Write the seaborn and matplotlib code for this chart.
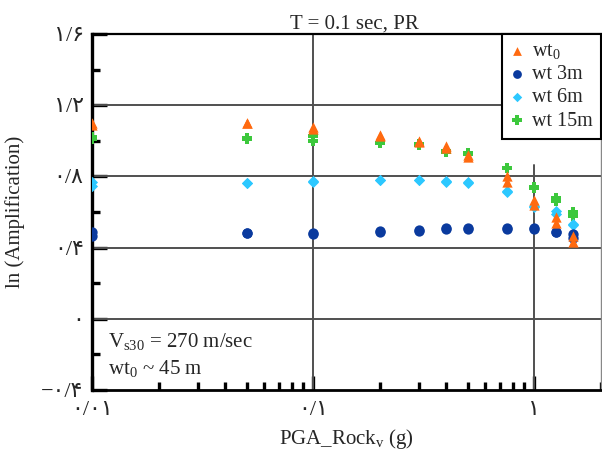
import matplotlib
matplotlib.use("Agg")
import matplotlib.pyplot as plt
import seaborn as sns
import pandas as pd
from matplotlib.ticker import FixedLocator, FixedFormatter, NullFormatter, LogLocator

# ---- data ----
pga = [0.01, 0.05, 0.1, 0.2, 0.3, 0.4, 0.5, 0.75, 1.0, 1.25, 1.5]
wt0_a = [1.10, 1.10, 1.08, 1.035, 1.00, 0.97, 0.92, 0.80, 0.67, 0.57, 0.465]
wt0_b = [1.09, 1.10, 1.065, 1.025, 0.995, 0.96, 0.91, 0.77, 0.64, 0.54, 0.43]
wt3_a = [0.49, 0.48, 0.48, 0.495, 0.50, 0.51, 0.51, 0.51, 0.51, 0.49, 0.475]
wt3_b = [0.465, 0.48, 0.475, 0.485, 0.495, 0.505, 0.505, 0.505, 0.505, 0.485, 0.455]
wt6_a = [0.77, 0.765, 0.775, 0.78, 0.78, 0.775, 0.77, 0.72, 0.635, 0.605, 0.535]
wt6_b = [0.745, 0.765, 0.77, 0.78, 0.78, 0.77, 0.765, 0.71, 0.63, 0.59, 0.525]
wt15_a = [1.02, 1.015, 1.025, 0.99, 0.98, 0.94, 0.93, 0.85, 0.74, 0.68, 0.60]
wt15_b = [1.01, 1.01, 1.00, 0.985, 0.975, 0.935, 0.925, 0.845, 0.735, 0.66, 0.575]

series_names = [r"wt$_{\mathregular{0}}$", "wt 3m", "wt 6m", "wt 15m"]
series_values = [(wt0_a, wt0_b), (wt3_a, wt3_b), (wt6_a, wt6_b), (wt15_a, wt15_b)]
colors = ["#FF6A10", "#0A3A9E", "#2CC8FF", "#3CC83C"]
markers = ["^", "o", "D", "P"]
msizes = [55, 55, 32, 60]

y_ticks = [1.6, 1.2, 0.8, 0.4, 0.0, -0.4]
y_ticklabels = ["۱/۶", "۱/۲", "۰/۸", "۰/۴", "۰", "−۰/۴"]
x_ticks = [0.01, 0.1, 1]
x_ticklabels = ["۰/۰۱", "۰/۱", "۱"]

# ---- style ----
sns.set_style("white")
plt.rcParams["font.family"] = ["Liberation Serif", "DejaVu Sans"]
plt.rcParams["mathtext.fontset"] = "custom"
plt.rcParams["mathtext.rm"] = "Liberation Serif"
plt.rcParams["mathtext.it"] = "Liberation Serif:italic"

FS = 15

fig = plt.figure(figsize=(6.02, 4.5), dpi=100)
ax = fig.add_axes([92 / 602, 60 / 450, 509 / 602, 356 / 450])

# grid lines
for yv in [1.2, 0.8, 0.4, 0.0]:
    ax.axhline(yv, color="#505050", lw=1.4, zorder=1)
ax.axvline(0.1, color="#505050", lw=1.4, zorder=1)
ax.axvline(1.0, ymax=0.633, color="#505050", lw=1.4, zorder=1)

# long form frame
rows = []
for name, (a, b) in zip(series_names, series_values):
    for x, v1, v2 in zip(pga, a, b):
        rows.append({"series": name, "pga": x, "amp": v1})
        rows.append({"series": name, "pga": x, "amp": v2})
df = pd.DataFrame(rows)

draw_order = [3, 2, 1, 0]
for i in draw_order:
    sub = df[df["series"] == series_names[i]]
    sns.scatterplot(data=sub, x="pga", y="amp", ax=ax, color=colors[i],
                    marker=markers[i], s=msizes[i], linewidth=0,
                    label=series_names[i], zorder=3 + (3 - i))

ax.set_xscale("log")
ax.set_xlim(0.01, 2.0)
ax.set_ylim(-0.4, 1.6)

ax.yaxis.set_major_locator(FixedLocator(y_ticks))
ax.yaxis.set_major_formatter(FixedFormatter(y_ticklabels))
ax.yaxis.set_minor_locator(FixedLocator([1.4, 1.0, 0.6, 0.2, -0.2]))
ax.xaxis.set_major_locator(FixedLocator(x_ticks))
ax.xaxis.set_major_formatter(FixedFormatter(x_ticklabels))
ax.xaxis.set_minor_locator(LogLocator(base=10, subs=tuple(range(2, 10)), numticks=50))
ax.xaxis.set_minor_formatter(NullFormatter())

ax.tick_params(axis="both", which="both", bottom=True, left=True, top=False, right=False)
ax.tick_params(axis="y", which="major", direction="in", length=11, width=2.4,
               color="black", labelsize=16, pad=6)
ax.tick_params(axis="y", which="minor", direction="in", length=6, width=2.4, color="black")
ax.tick_params(axis="x", which="major", direction="in", length=10, width=2.4,
               color="black", labelsize=16, pad=8)
ax.tick_params(axis="x", which="minor", direction="in", length=5.5, width=2.4, color="black")

ax.spines["left"].set_linewidth(2.4)
ax.spines["left"].set_color("black")
ax.spines["bottom"].set_linewidth(2.0)
ax.spines["bottom"].set_color("black")
ax.spines["top"].set_linewidth(1.6)
ax.spines["top"].set_color("black")
ax.spines["right"].set_linewidth(1.0)
ax.spines["right"].set_color("#888888")

ax.set_title("T = 0.1 sec, PR", fontsize=FS, pad=3, x=0.515)
ax.set_xlabel(r"PGA_Rock$_{\mathregular{v}}$ (g)", fontsize=FS, labelpad=5)
ax.set_ylabel("ln (Amplification)", fontsize=FS, labelpad=12)

ax.text(0.031, 0.12, r"V$_{\mathregular{s30}}$ = 270 m/sec", transform=ax.transAxes,
        fontsize=FS, ha="left", va="baseline")
ax.text(0.031, 0.045, r"wt$_{\mathregular{0}}$ ~ 45 m", transform=ax.transAxes,
        fontsize=FS, ha="left", va="baseline")

handles, labels = ax.get_legend_handles_labels()
order = [labels.index(n) for n in series_names]
leg = ax.legend([handles[k] for k in order], [labels[k] for k in order],
                loc="upper right", bbox_to_anchor=(1.0, 1.0), frameon=True,
                fancybox=False, edgecolor="black", framealpha=1,
                fontsize=14.5, handlelength=0.7, handletextpad=0.4,
                labelspacing=0.2, borderaxespad=0, borderpad=0.4,
                markerscale=0.85)
leg.get_frame().set_linewidth(1.5)

fig.savefig("out.png", dpi=100)
